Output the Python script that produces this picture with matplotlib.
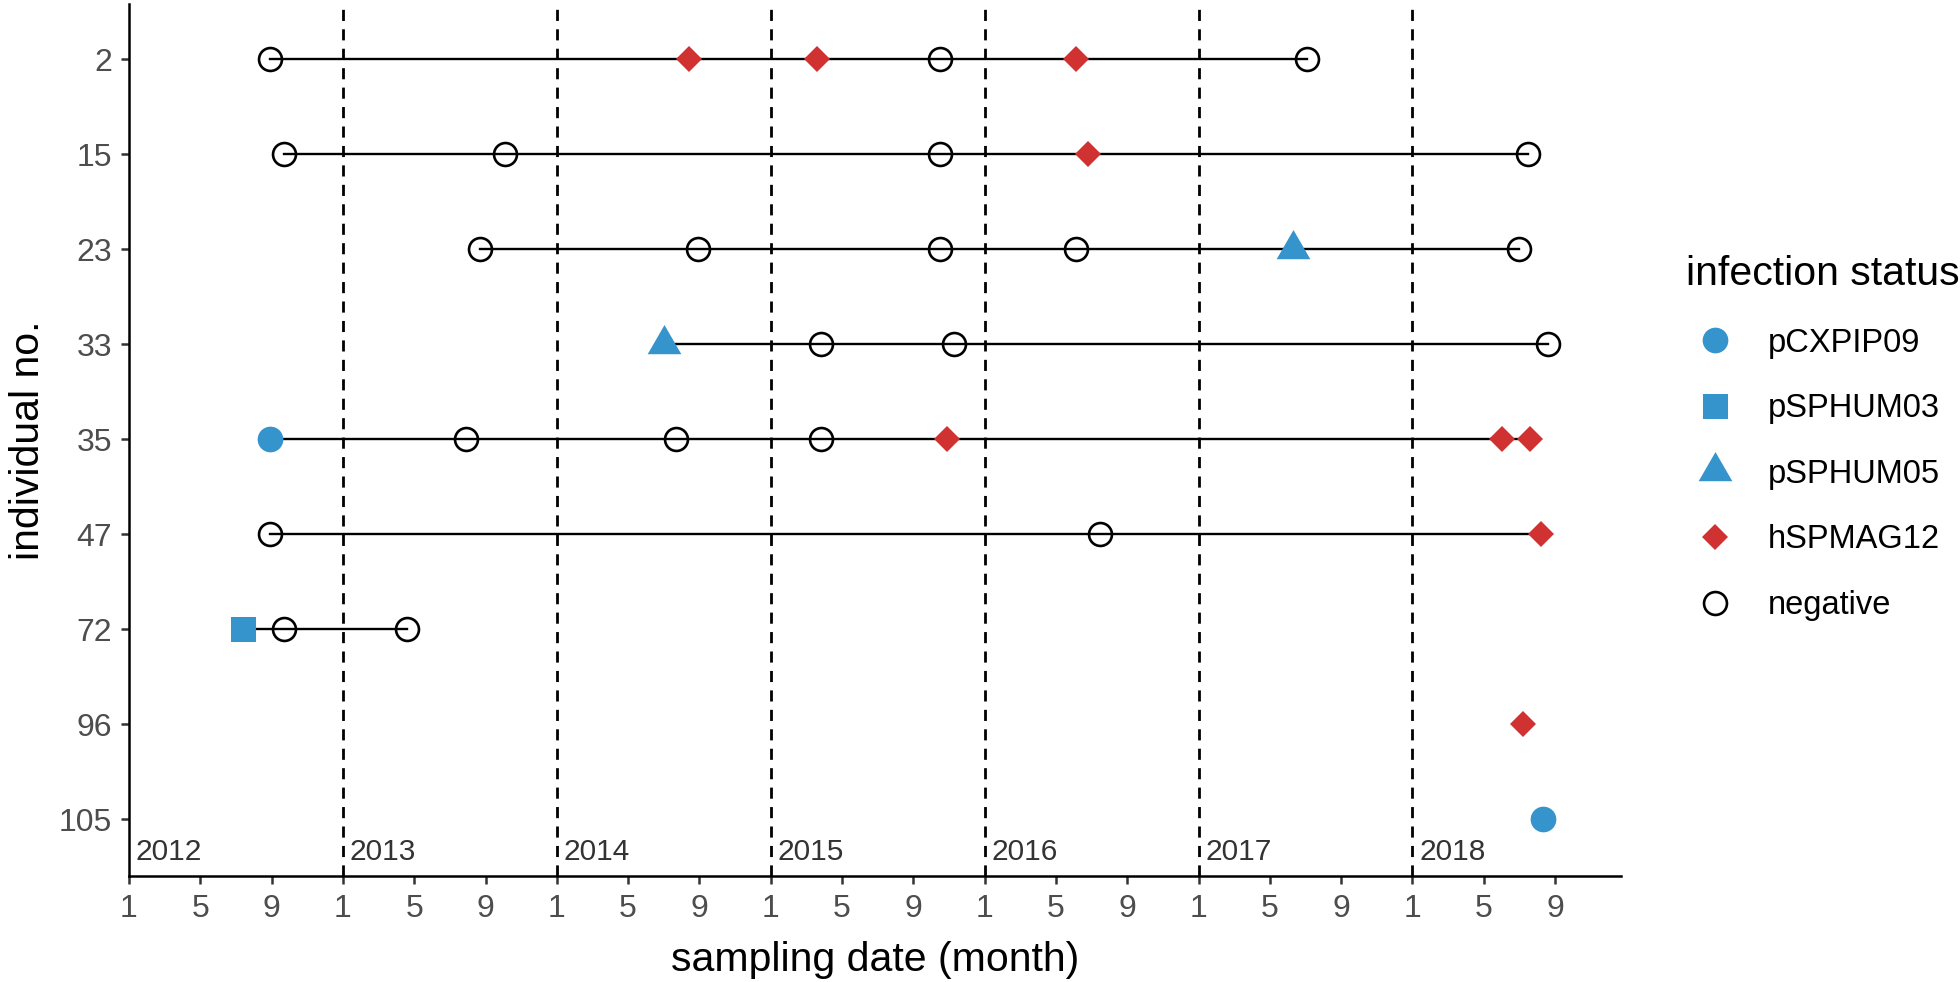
import matplotlib
matplotlib.use("Agg")
import matplotlib.pyplot as plt

plt.rcParams["font.family"] = ["Liberation Sans", "DejaVu Sans"]

# individuals, top to bottom
individuals = ["2", "15", "23", "33", "35", "47", "72", "96", "105"]

# one entry per sample: individual, month index (1 = Jan 2012), status
sample_ind = ["2", "2", "2", "2", "2", "2",
              "15", "15", "15", "15", "15",
              "23", "23", "23", "23", "23", "23",
              "33", "33", "33", "33",
              "35", "35", "35", "35", "35", "35", "35",
              "47", "47", "47",
              "72", "72", "72",
              "96",
              "105"]
sample_month = [8.9, 32.4, 39.6, 46.5, 54.1, 67.1,
                9.7, 22.1, 46.5, 54.8, 79.5,
                20.7, 32.9, 46.5, 54.1, 66.3, 79.0,
                31.0, 39.8, 47.3, 80.6,
                8.9, 19.9, 31.7, 39.8, 46.9, 78.0, 79.6,
                8.9, 55.5, 80.2,
                7.4, 9.7, 16.6,
                79.2,
                80.3]
sample_status = ["negative", "hSPMAG12", "hSPMAG12", "negative", "hSPMAG12", "negative",
                 "negative", "negative", "negative", "hSPMAG12", "negative",
                 "negative", "negative", "negative", "negative", "pSPHUM05", "negative",
                 "pSPHUM05", "negative", "negative", "negative",
                 "pCXPIP09", "negative", "negative", "negative", "hSPMAG12", "hSPMAG12", "hSPMAG12",
                 "negative", "negative", "hSPMAG12",
                 "pSPHUM03", "negative", "negative",
                 "hSPMAG12",
                 "pCXPIP09"]

status_order = ["pCXPIP09", "pSPHUM03", "pSPHUM05", "hSPMAG12", "negative"]
years = [2012, 2013, 2014, 2015, 2016, 2017, 2018]
tick_months = [1, 5, 9]

blue = "#3594cc"
red = "#d03232"
triangle = [(0, 1), (-0.866, -0.5), (0.866, -0.5)]
styles = {
    "pCXPIP09": dict(marker="o", ms=18.5, mfc=blue, mec=blue, mew=0),
    "pSPHUM03": dict(marker="s", ms=18, mfc=blue, mec=blue, mew=0),
    "pSPHUM05": dict(marker=triangle, ms=28, mfc=blue, mec=blue, mew=0),
    "hSPMAG12": dict(marker="D", ms=13.3, mfc=red, mec=red, mew=0),
    "negative": dict(marker="o", ms=16.5, mfc="none", mec="black", mew=1.9),
}

fig = plt.figure(figsize=(19.6, 9.82), dpi=100)
ax = fig.add_axes([129 / 1960, 1 - 876 / 982, (1621 - 129) / 1960, (876 - 4) / 982])

row = {name: i for i, name in enumerate(individuals)}

# year separators
for y in years[1:]:
    ax.axvline((y - 2012) * 12 + 1, color="black", lw=2.0, ls=(0, (4, 3)), zorder=1)

# sampling span per individual
for name in individuals:
    ms = [m for n, m in zip(sample_ind, sample_month) if n == name]
    if len(ms) > 1:
        ax.plot([min(ms), max(ms)], [row[name]] * 2, color="black", lw=1.7, zorder=2)

handles = []
for st in status_order:
    xs = [m for m, s in zip(sample_month, sample_status) if s == st]
    ys = [row[n] for n, s in zip(sample_ind, sample_status) if s == st]
    h, = ax.plot(xs, ys, ls="none", zorder=3, label=st, **styles[st])
    handles.append(h)

ax.set_xlim(1, 84.7)
ax.set_ylim(len(individuals) - 0.4, -0.58)

xt = [(y - 2012) * 12 + m for y in years for m in tick_months]
ax.set_xticks(xt)
ax.set_xticklabels([str(m) for y in years for m in tick_months])
ax.set_yticks(range(len(individuals)))
ax.set_yticklabels(individuals)

for y in years:
    ax.annotate(str(y), xy=((y - 2012) * 12 + 1, len(individuals) - 0.4),
                xytext=(5, 11.5), textcoords="offset points",
                ha="left", va="baseline", fontsize=21.5, color="#333333")

for s in ["top", "right"]:
    ax.spines[s].set_visible(False)
for s in ["left", "bottom"]:
    ax.spines[s].set_linewidth(1.8)
    ax.spines[s].set_color("black")
ax.tick_params(axis="both", length=6, width=1.8, color="#333333",
               labelsize=23, labelcolor="#4d4d4d")
ax.tick_params(axis="x", pad=7)
ax.tick_params(axis="y", pad=6)

ax.set_xlabel("sampling date (month)", fontsize=29.5, labelpad=12)
ax.set_ylabel("individual no.", fontsize=29.5, labelpad=9)

fig.legend(handles=handles, labels=status_order, title="infection status",
           loc="upper left", bbox_to_anchor=(1686 / 1960, 1 - 255 / 982),
           frameon=False, fontsize=23.5, title_fontsize=29.5, alignment="left",
           handlelength=1.8, handletextpad=0.7, labelspacing=1.06,
           borderpad=0, borderaxespad=0)

fig.savefig("out.png", dpi=100)
